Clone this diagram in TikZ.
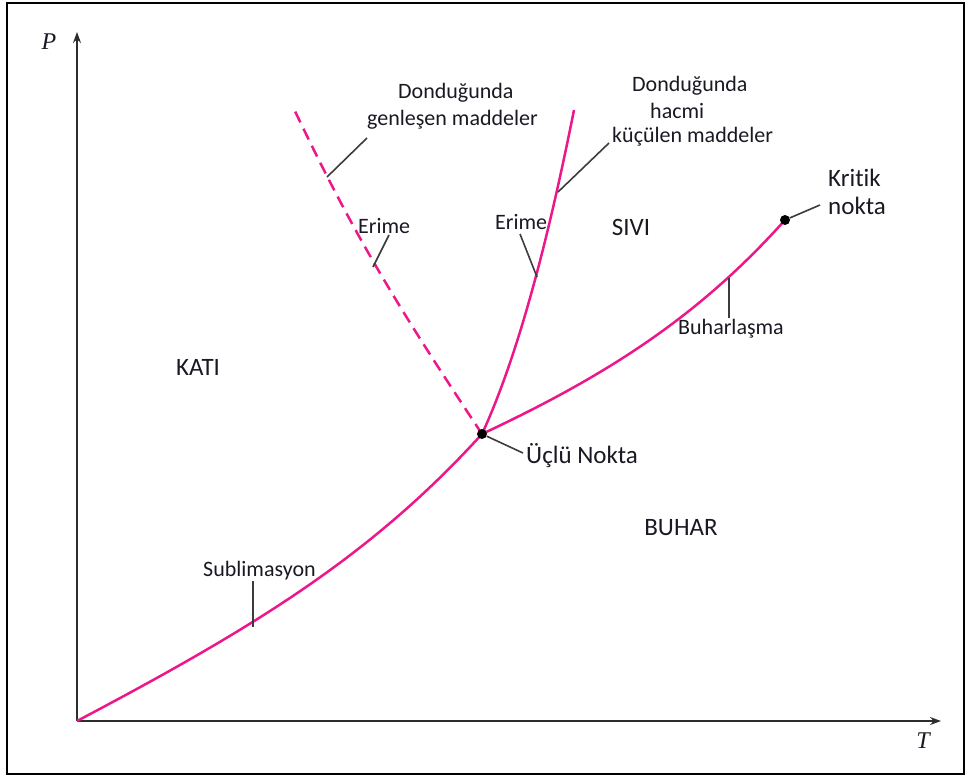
\documentclass[tikz,border=0pt]{standalone}
\usepackage{fontspec}
\setmainfont{Carlito}[Ligatures={NoCommon}]
\newfontfamily\axisfont{Liberation Serif}
\usetikzlibrary{arrows.meta}
\definecolor{curvemag}{RGB}{236,24,138}
\definecolor{leadgray}{RGB}{60,60,60}
\definecolor{axisgray}{RGB}{45,45,45}
\definecolor{txt}{RGB}{25,25,35}
\begin{document}
\begin{tikzpicture}[x=1pt,y=-1pt,
  lbl/.style={font=\fontsize{22}{26}\selectfont, text=txt, inner sep=0pt, anchor=base west},
  biglbl/.style={font=\fontsize{25}{30}\selectfont, text=txt, inner sep=0pt, anchor=center},
  axlbl/.style={font=\axisfont\itshape\fontsize{24}{28}\selectfont, text=txt, inner sep=0pt, anchor=center},
  phasecurve/.style={draw=curvemag, line width=2.5pt},
  dashcurve/.style={draw=curvemag, line width=2.5pt, dash pattern=on 12pt off 7pt},
  leader/.style={draw=leadgray, line width=1.6pt},
  axisline/.style={draw=axisgray, line width=1.6pt, -{Stealth[length=11pt,width=8pt]}},
  dotpt/.style={circle, fill=black, inner sep=0pt, minimum size=10pt}
]
\useasboundingbox (0,0) rectangle (966,776);
\draw[black, line width=2pt] (7,3) rectangle (964,774);

% axes
\coordinate (O) at (77,721);
\coordinate (Ptip) at (77,32);
\coordinate (Ttip) at (941,721);
\draw[axisline] (O) -- (Ptip);
\draw[axisline] (O) -- (Ttip);
\node[axlbl] (Plab) at (49,42) {P};
\node[axlbl] (Tlab) at (923,741) {T};

% key points
\coordinate (TP) at (482,434);
\coordinate (CP) at (785,220);
\coordinate (Mtop) at (574,110);
\coordinate (Dtop) at (293,107);

% curves
\draw[phasecurve] (O) .. controls (257,626) and (372,555) .. (TP);
\draw[phasecurve] (TP) .. controls (610,374) and (700,315) .. (CP);
\draw[phasecurve] (TP) .. controls (523,345) and (553,215) .. (Mtop);
\draw[dashcurve] (TP) .. controls (396,304) and (355,237) .. (Dtop);

\node[dotpt] (TPdot) at (TP) {};
\node[dotpt] (CPdot) at (CP) {};

% labels
\node[lbl] (dl1) at (398,99) {Donduğunda};
\node[lbl] (dl2) at (367,125) {genleşen maddeler};
\node[lbl] (dr1) at (632,92) {Donduğunda};
\node[lbl] (dr2) at (650,118) {hacmi};
\node[lbl] (dr3) at (612,142) {küçülen maddeler};
\node[lbl] (erL) at (358,233) {Erime};
\node[lbl] (erR) at (495,229) {Erime};
\node[lbl] (sub) at (203,576) {Sublimasyon};
\node[lbl] (buh) at (678,334) {Buharlaşma};
\node[lbl, font=\fontsize{25}{30}\selectfont] (kr1) at (828,186) {Kritik};
\node[lbl, font=\fontsize{25}{30}\selectfont] (kr2) at (828,214) {nokta};
\node[lbl, font=\fontsize{25}{30}\selectfont] (ucl) at (526,463) {Üçlü Nokta};
\node[biglbl] (sivi) at (631,227) {SIVI};
\node[biglbl] (kati) at (198,367) {KATI};
\node[biglbl] (buhar) at (681,528) {BUHAR};

% leaders
\coordinate (lgA) at (367,138); \coordinate (lgB) at (327,177);
\draw[leader] (lgA) -- (lgB);
\coordinate (lkA) at (609,143); \coordinate (lkB) at (558,192);
\draw[leader] (lkA) -- (lkB);
\coordinate (leA) at (389,235); \coordinate (leB) at (373,267);
\draw[leader] (leA) -- (leB);
\coordinate (lrA) at (520,234); \coordinate (lrB) at (537,277);
\draw[leader] (lrA) -- (lrB);
\coordinate (lsA) at (253,581); \coordinate (lsB) at (253,627);
\draw[leader] (lsA) -- (lsB);
\coordinate (lbA) at (729,318); \coordinate (lbB) at (729,278);
\draw[leader] (lbA) -- (lbB);
\coordinate (lcA) at (820,205);
\draw[leader] (CPdot) -- (lcA);
\coordinate (luA) at (523,453);
\draw[leader] (TPdot) -- (luA);
\end{tikzpicture}
\end{document}
